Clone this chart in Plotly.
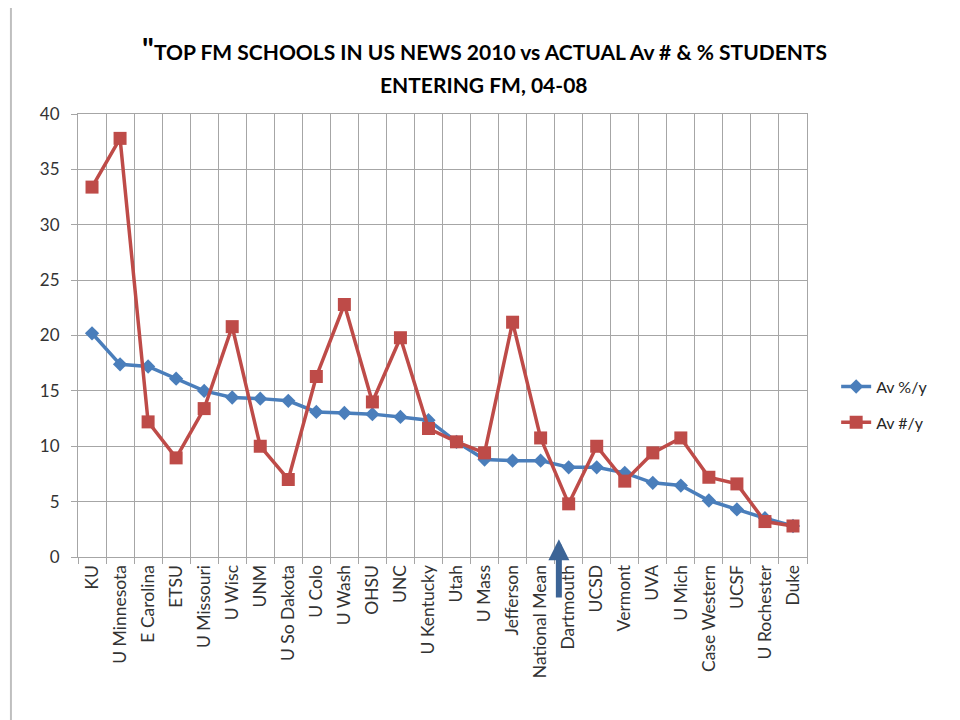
import plotly.graph_objects as go

schools = ["KU", "U Minnesota", "E Carolina", "ETSU", "U Missouri", "U Wisc", "UNM",
           "U So Dakota", "U Colo", "U Wash", "OHSU", "UNC", "U Kentucky", "Utah",
           "U Mass", "Jefferson", "National Mean", "Dartmouth", "UCSD", "Vermont",
           "UVA", "U Mich", "Case Western", "UCSF", "U Rochester", "Duke"]
av_pct = [20.2, 17.4, 17.2, 16.1, 15.0, 14.4, 14.3, 14.1, 13.1, 13.0, 12.9, 12.65, 12.35,
          10.4, 8.8, 8.7, 8.7, 8.1, 8.1, 7.6, 6.7, 6.45, 5.1, 4.3, 3.5, 2.8]
av_num = [33.4, 37.8, 12.2, 8.95, 13.4, 20.8, 10.0, 7.0, 16.3, 22.8, 14.0, 19.8, 11.6,
          10.4, 9.4, 21.2, 10.75, 4.8, 10.0, 6.85, 9.4, 10.75, 7.2, 6.6, 3.2, 2.8]
title_lines = ["TOP FM SCHOOLS IN US NEWS 2010 vs ACTUAL Av # &amp; % STUDENTS",
               "ENTERING FM, 04-08"]

FONT = "Lato, Calibri, Arial, sans-serif"
GRID = "#a6a6a6"

fig = go.Figure()
fig.add_trace(go.Scatter(x=schools, y=av_pct, mode="lines+markers", name="Av %/y",
                         legendgroup="a",
                         line=dict(color="#4a7ebb", width=3.5),
                         marker=dict(symbol="diamond", size=11, color="#4a7ebb")))
fig.add_trace(go.Scatter(x=schools, y=av_num, mode="lines+markers", name="Av #/y",
                         legendgroup="b",
                         line=dict(color="#be4b48", width=3.5),
                         marker=dict(symbol="square", size=13, color="#be4b48")))

fig.update_layout(
    width=960, height=720,
    margin=dict(l=70, r=161, t=106, b=171),
    paper_bgcolor="white", plot_bgcolor="white",
    font=dict(family=FONT, size=15, color="#262626"),
    showlegend=True,
    legend=dict(x=1.04, xanchor="left", y=0.344, yanchor="middle",
                font=dict(family=FONT, size=16, color="#262626"),
                bgcolor="rgba(0,0,0,0)", tracegroupgap=12),
    xaxis=dict(type="category", range=[-0.5, 25.5], tickson="boundaries",
               ticks="outside", ticklen=6, tickcolor=GRID, tickangle=-90,
               showgrid=True, gridcolor=GRID, gridwidth=1,
               showline=True, linecolor=GRID, mirror=True,
               tickfont=dict(family=FONT, size=17.5, color="#333333")),
    yaxis=dict(range=[0, 40], dtick=5, ticks="outside", ticklen=6, tickcolor=GRID,
               showgrid=True, gridcolor=GRID, gridwidth=1, zeroline=False,
               showline=True, linecolor=GRID, mirror=True, ticklabelstandoff=8,
               tickfont=dict(family=FONT, size=17, color="#333333")),
)

# two-line title
fig.add_annotation(xref="paper", yref="paper", x=0.557, y=1.148, xanchor="center",
                   yanchor="middle", showarrow=False,
                   text='<span style="font-size:30px">"</span>' + title_lines[0],
                   font=dict(family=FONT, size=21, color="#000000", weight="bold"))
fig.add_annotation(xref="paper", yref="paper", x=0.557, y=1.067, xanchor="center",
                   yanchor="middle", showarrow=False, text=title_lines[1],
                   font=dict(family=FONT, size=21, color="#000000", weight="bold"))

# arrow pointing at the National Mean boundary
fig.add_annotation(x=16.65, y=1.6, xref="x", yref="y", ax=16.65, ay=-3.8,
                   axref="x", ayref="y", text="", showarrow=True,
                   arrowhead=2, arrowsize=0.7, arrowwidth=6, arrowcolor="#3c6496",
                   standoff=0, startstandoff=0)

# slide border on the left
fig.add_shape(type="line", xref="paper", yref="paper", x0=-0.092, x1=-0.092,
              y0=-0.4, y1=1.3, line=dict(color="#bfbfbf", width=2))

fig.write_html("out.html")
